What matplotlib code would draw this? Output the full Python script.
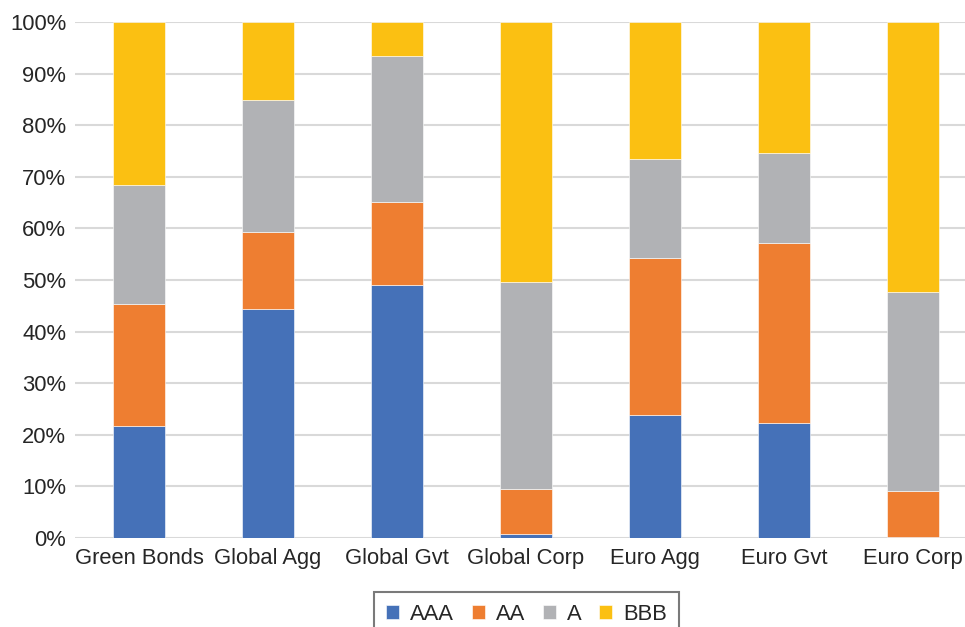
import matplotlib
matplotlib.use("Agg")
import matplotlib.pyplot as plt
import numpy as np

categories = ["Green Bonds", "Global Agg", "Global Gvt", "Global Corp",
              "Euro Agg", "Euro Gvt", "Euro Corp"]
aaa = [21.8, 44.3, 49.0, 0.85, 23.8, 22.2, 0.2]
aa = [23.5, 15.0, 16.1, 8.55, 30.5, 35.0, 9.0]
a = [23.1, 25.5, 28.4, 40.3, 19.1, 17.5, 38.5]
bbb = [31.6, 15.2, 6.5, 50.3, 26.6, 25.3, 52.3]

series = [("AAA", aaa, "#4571b8"), ("AA", aa, "#ee7e31"),
          ("A", a, "#b1b2b5"), ("BBB", bbb, "#fbc012")]

plt.rcParams['font.family'] = ['Liberation Sans', 'DejaVu Sans']
fs = 15.8

fig = plt.figure(figsize=(9.65, 6.27), dpi=100)
ax = fig.add_axes([74.5 / 965, 89 / 627, 903 / 965, 516 / 627])

x = np.arange(len(categories))
bottom = np.zeros(len(categories))
for name, vals, col in series:
    vals = np.array(vals)
    ax.bar(x, vals, 0.4, bottom=bottom, color=col, label=name,
           edgecolor="white", linewidth=0.4, zorder=3)
    bottom += vals

ax.set_xlim(-0.5, len(categories) - 0.5)
ax.set_ylim(0, 100)
ax.set_yticks(np.arange(0, 101, 10))
ax.set_yticklabels([f"{v}%" for v in range(0, 101, 10)])
ax.set_xticks(x)
ax.set_xticklabels(categories)
ax.grid(axis="y", color="#d9d9d9", linewidth=1.5, zorder=0)
for s in ax.spines.values():
    s.set_visible(False)
ax.tick_params(axis="both", length=0, labelsize=fs, labelcolor="#262626")
ax.tick_params(axis="x", pad=7)
ax.tick_params(axis="y", pad=6)

leg = fig.legend(loc="upper center", bbox_to_anchor=(526.5 / 965, 35 / 627),
                 ncol=4, frameon=True, fancybox=False, fontsize=fs,
                 handlelength=0.6, handleheight=0.6, handletextpad=0.5,
                 columnspacing=0.8, borderpad=0.55, borderaxespad=0)
leg.get_frame().set_edgecolor("#595959")
leg.get_frame().set_linewidth(1.5)
for t in leg.get_texts():
    t.set_color("#262626")

fig.savefig("out.png", dpi=100)
